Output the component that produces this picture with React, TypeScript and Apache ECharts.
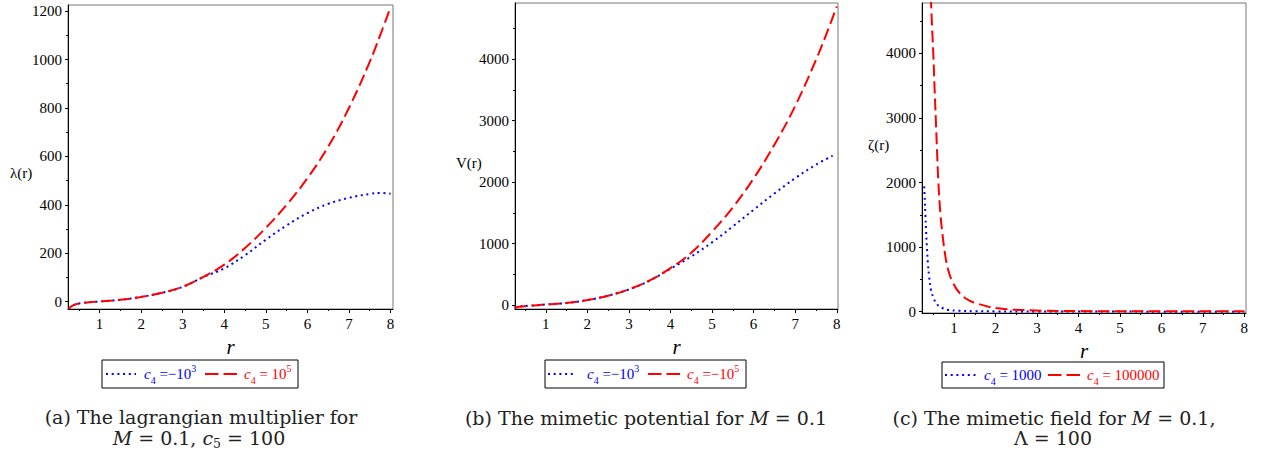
import React, { useEffect, useRef } from "react";
import * as echarts from "echarts";

// ---------- data ----------
const rGrid = [0.25, 0.4, 0.6, 0.8, 1, 1.5, 2, 2.5, 3, 3.5, 4, 4.5, 5, 5.5, 6, 6.5, 7, 7.5, 7.75, 8];
// (a) lagrangian multiplier
const lambdaBlue = [-28, -12, -5, -1, 1, 8, 20, 37, 61, 102, 138, 192, 256, 315, 366, 404, 429, 445, 449, 446];
const lambdaRed = [-28, -12, -5, -1, 1, 8, 20, 37, 62, 103, 153, 222, 305, 400, 510, 640, 800, 990, 1100, 1215];
// (b) mimetic potential
const rVBlue = [0.25, 0.4, 0.6, 0.8, 1, 1.5, 2, 2.5, 3, 3.5, 4, 4.5, 5, 5.5, 6, 6.5, 7, 7.5, 7.9];
const vBlue = [-40, -25, -12, -3, 8, 33, 80, 152, 254, 398, 590, 790, 1020, 1280, 1550, 1815, 2065, 2285, 2430];
const vRed = [-40, -25, -12, -3, 8, 33, 80, 152, 255, 400, 600, 850, 1195, 1590, 2060, 2610, 3240, 3990, 4410, 4860];
// (c) mimetic field
const rZetaBlue = [0.28, 0.295, 0.31, 0.325, 0.345, 0.37, 0.4, 0.445, 0.51, 0.59, 0.7, 0.86, 1.1, 1.5, 2, 3, 4, 5, 6, 7, 8];
const zetaBlue = [1940, 1730, 1500, 1270, 1010, 750, 545, 335, 206, 114, 62, 28, 15, 8, 5, 3, 2, 2, 1, 1, 1];
const rZetaRed = [0.44, 0.47, 0.5, 0.53, 0.56, 0.59, 0.62, 0.67, 0.72, 0.78, 0.86, 0.98, 1.14, 1.35, 1.6, 1.9, 2.3, 2.7, 3.1, 4, 5, 6, 7, 8];
const zetaRed = [4880, 4420, 4000, 3480, 2990, 2500, 2040, 1530, 1210, 905, 645, 440, 285, 180, 118, 68, 37, 25, 16, 10, 8, 7, 6, 6];

// ---------- ticks ----------
const xTicks = [1, 2, 3, 4, 5, 6, 7, 8];
const xMinorTicks = [0.5, 1.5, 2.5, 3.5, 4.5, 5.5, 6.5, 7.5];
const lambdaTicks = [0, 200, 400, 600, 800, 1000, 1200];
const lambdaMinorTicks = [100, 300, 500, 700, 900, 1100];
const vTicks = [0, 1000, 2000, 3000, 4000];
const vMinorTicks = [500, 1500, 2500, 3500, 4500];
const zetaTicks = [0, 1000, 2000, 3000, 4000];
const zetaMinorTicks = [500, 1500, 2500, 3500, 4500];

const SERIF = "Liberation Serif";
const CAPTION = "DejaVu Serif";
const BLUE = "#0000ff";
const RED = "#ff0000";
const tickRich = { t: { fontFamily: SERIF, fontSize: 15, color: "#000", lineHeight: 16 } };
const tickLabel = (v: number) => `{t|${v}}`;

function xAxesFor(gridIndex: number, min: number, max: number) {
  return [
    {
      type: "value", gridIndex, min, max, position: "bottom",
      axisLine: { show: true, onZero: false, lineStyle: { color: "#000", width: 1 } },
      axisTick: { show: true, length: 4, customValues: xTicks, lineStyle: { color: "#000" } },
      axisLabel: { customValues: xTicks, formatter: tickLabel, rich: tickRich, margin: 7, fontFamily: SERIF, fontSize: 15, color: "#000" },
      splitLine: { show: false },
      name: "r", nameLocation: "middle", nameGap: 21,
      nameTextStyle: { fontFamily: SERIF, fontStyle: "italic", fontSize: 21, color: "#000" },
    },
    {
      type: "value", gridIndex, min, max, position: "bottom",
      axisLine: { show: false, onZero: false },
      axisTick: { show: true, length: 2, customValues: xMinorTicks, lineStyle: { color: "#000" } },
      axisLabel: { show: false },
      splitLine: { show: false },
    },
  ];
}

function yAxesFor(gridIndex: number, min: number, max: number, ticks: number[], minor: number[]) {
  return [
    {
      type: "value", gridIndex, min, max, position: "left",
      axisLine: { show: true, onZero: false, lineStyle: { color: "#000", width: 1 } },
      axisTick: { show: true, length: 3, customValues: ticks, lineStyle: { color: "#000" } },
      axisLabel: { customValues: ticks, formatter: tickLabel, rich: tickRich, margin: 6, fontFamily: SERIF, fontSize: 15, color: "#000" },
      splitLine: { show: false },
    },
    {
      type: "value", gridIndex, min, max, position: "left",
      axisLine: { show: false, onZero: false },
      axisTick: { show: true, length: 2, customValues: minor, lineStyle: { color: "#000" } },
      axisLabel: { show: false },
      splitLine: { show: false },
    },
  ];
}

const dotted = { color: BLUE, width: 2, type: [2, 3.7] as number[] };
const dashed = { color: RED, width: 2, type: [12, 5] as number[] };

function lineSeries(xi: number, xs: number[], ys: number[], style: any, name: string) {
  return {
    type: "line", name, xAxisIndex: xi, yAxisIndex: xi,
    data: xs.map((x, i) => [x, ys[i]]),
    showSymbol: false, symbol: "none",
    smooth: 0.4, clip: true,
    lineStyle: style, itemStyle: { color: style.color },
  };
}

const legendRich = (color: string) => ({
  c: { fontFamily: SERIF, fontStyle: "italic", fontSize: 15, lineHeight: 22, fill: color, verticalAlign: "middle" },
  n: { fontFamily: SERIF, fontSize: 15, lineHeight: 22, fill: color, verticalAlign: "middle" },
  s: { fontFamily: SERIF, fontSize: 10, lineHeight: 10, fill: color, verticalAlign: "bottom" },
  p: { fontFamily: SERIF, fontSize: 10, lineHeight: 10, fill: color, verticalAlign: "top" },
});

function legend(box: number[], bl: number[], bt: number, rl: number[], rt: number, blueText: string, redText: string) {
  const [x, y, w, h] = box;
  const cy = y + h / 2;
  return [
    { type: "rect", shape: { x, y, width: w, height: h }, style: { fill: "#fff", stroke: "#000", lineWidth: 1 }, z: 10 },
    { type: "line", shape: { x1: bl[0], y1: cy, x2: bl[1], y2: cy }, style: { stroke: BLUE, lineWidth: 2, lineDash: [2, 3.7] }, z: 11 },
    { type: "text", x: bt, y: cy, z: 11, style: { text: blueText, rich: legendRich(BLUE), fill: BLUE, align: "left", verticalAlign: "middle", textAlign: "left", textVerticalAlign: "middle" } },
    { type: "line", shape: { x1: rl[0], y1: cy, x2: rl[1], y2: cy }, style: { stroke: RED, lineWidth: 2, lineDash: [13.5, 5] }, z: 11 },
    { type: "text", x: rt, y: cy, z: 11, style: { text: redText, rich: legendRich(RED), fill: RED, align: "left", verticalAlign: "middle", textAlign: "left", textVerticalAlign: "middle" } },
  ];
}

const capRich = {
  t: { fontFamily: CAPTION, fontSize: 19, fill: "#222", lineHeight: 24, verticalAlign: "middle" },
  m: { fontFamily: CAPTION, fontStyle: "italic", fontSize: 19, fill: "#222", lineHeight: 24, verticalAlign: "middle" },
  s: { fontFamily: CAPTION, fontSize: 12.5, fill: "#222", lineHeight: 12, verticalAlign: "bottom" },
};

function caption(x: number, y: number, text: string) {
  return {
    type: "text", x, y, z: 11,
    style: { text, rich: capRich, fill: "#222", align: "center", verticalAlign: "middle", textAlign: "center", textVerticalAlign: "middle" },
  };
}

function yName(x: number, y: number, text: string) {
  return {
    type: "text", x, y, z: 11,
    style: { text, fill: "#000", font: `15px "${SERIF}"`, align: "left", verticalAlign: "middle", textAlign: "left", textVerticalAlign: "middle" },
  };
}

export default function App() {
  const ref = useRef<HTMLDivElement>(null);
  useEffect(() => {
    if (!ref.current) return;
    const chart = echarts.init(ref.current, null, { renderer: "svg" });
    const option: any = {
      animation: false,
      backgroundColor: "#fff",
      textStyle: { fontFamily: SERIF, fontSize: 15, color: "#000" },
      grid: [
        { left: 68, top: 5, width: 325, height: 304, show: true, borderColor: "#777", borderWidth: 1, backgroundColor: "transparent" },
        { left: 515, top: 3, width: 323, height: 306, show: true, borderColor: "#777", borderWidth: 1, backgroundColor: "transparent" },
        { left: 922, top: 3, width: 324, height: 310, show: true, borderColor: "#777", borderWidth: 1, backgroundColor: "transparent" },
      ],
      xAxis: [
        ...xAxesFor(0, 0.24, 8.06),
        ...xAxesFor(1, 0.26, 8.03),
        ...xAxesFor(2, 0.228, 8.04),
      ],
      yAxis: [
        ...yAxesFor(0, -30, 1225, lambdaTicks, lambdaMinorTicks),
        ...yAxesFor(1, -65, 4917, vTicks, vMinorTicks),
        ...yAxesFor(2, -20, 4779, zetaTicks, zetaMinorTicks),
      ],
      series: [
        lineSeries(0, rGrid, lambdaBlue, dotted, "c4=-10^3 (a)"),
        lineSeries(0, rGrid, lambdaRed, dashed, "c4=10^5 (a)"),
        lineSeries(2, rVBlue, vBlue, dotted, "c4=-10^3 (b)"),
        lineSeries(2, rGrid, vRed, dashed, "c4=-10^5 (b)"),
        lineSeries(4, rZetaBlue, zetaBlue, dotted, "c4=1000 (c)"),
        lineSeries(4, rZetaRed, zetaRed, dashed, "c4=100000 (c)"),
      ],
      graphic: [
        yName(10, 173, "λ(r)"),
        yName(456, 163, "V(r)"),
        yName(868, 145, "ζ(r)"),
        ...legend([102, 360, 196, 28], [106, 136], 144, [205, 240], 244, "{c|c}{s|4}{n| =−10}{p|3}", "{c|c}{s|4}{n| = 10}{p|5}"),
        ...legend([545, 360, 201, 28], [548, 574], 587, [648, 681], 687, "{c|c}{s|4}{n| =−10}{p|3}", "{c|c}{s|4}{n| =−10}{p|5}"),
        ...legend([942, 362, 222, 26], [945, 976], 984, [1048, 1082], 1087, "{c|c}{s|4}{n| = 1000}", "{c|c}{s|4}{n| = 100000}"),
        caption(201, 417, "{t|(a) The lagrangian multiplier for}"),
        caption(199, 438, "{m|M}{t| = 0.1, }{m|c}{s|5}{t| = 100}"),
        caption(646, 418, "{t|(b) The mimetic potential for }{m|M}{t| = 0.1}"),
        caption(1054, 418, "{t|(c) The mimetic field for }{m|M}{t| = 0.1,}"),
        caption(1053, 438, "{t|Λ = 100}"),
      ],
    };
    chart.setOption(option);
    return () => chart.dispose();
  }, []);
  return <div ref={ref} style={{ position: "absolute", left: 0, top: 0, width: 1263, height: 462 }} />;
}
